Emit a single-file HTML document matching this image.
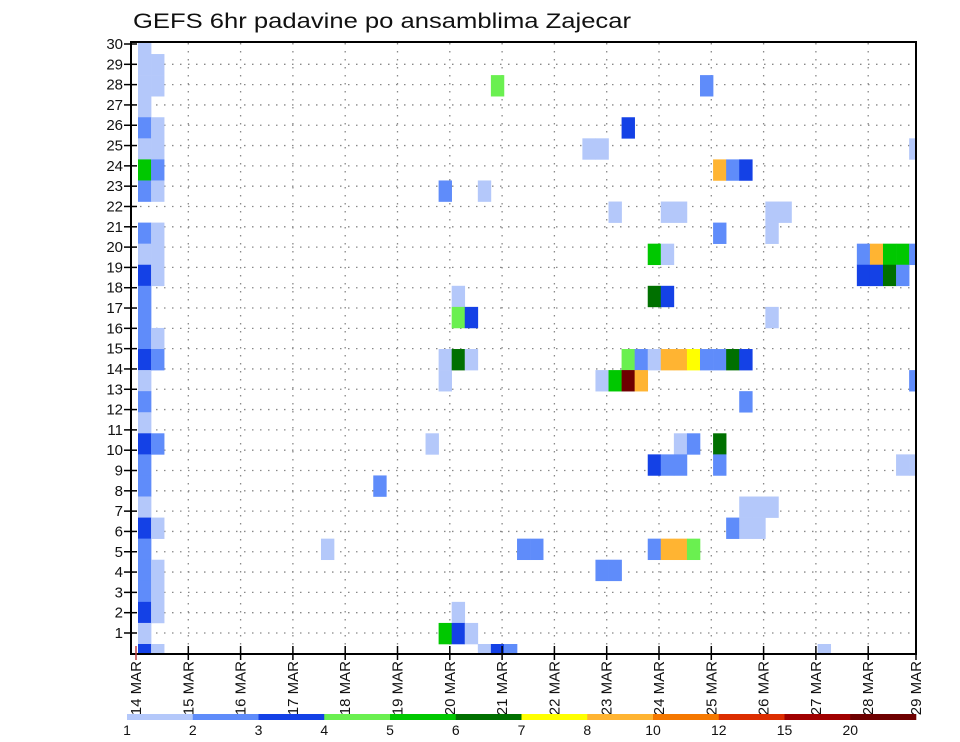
<!DOCTYPE html>
<html><head><meta charset="utf-8"><style>
html,body{margin:0;padding:0;background:#fff;}
svg{display:block;font-family:"Liberation Sans",sans-serif;}
</style></head><body>
<svg id="chart" width="960" height="742" viewBox="0 0 960 742" xmlns="http://www.w3.org/2000/svg">
<rect x="0" y="0" width="960" height="742" fill="#fff"/>
<text x="133" y="28" font-size="21" textLength="498" lengthAdjust="spacingAndGlyphs" fill="#111">GEFS 6hr padavine po ansamblima Zajecar</text>
<defs><clipPath id="plotclip"><rect x="132" y="42" width="783" height="612"/></clipPath></defs>
<g id="grid"></g>
<g id="cells" clip-path="url(#plotclip)"></g>
<rect x="131" y="42" width="785" height="612" fill="none" stroke="#000" stroke-width="2"/>
<g id="yaxis"></g>
<g id="xaxis"></g>
<g id="colorbar"></g>
</svg>
<script>
// time step index (6h steps from 14 MAR)
const cellTime = [0,0,0,0,0,0,0,0,0,0,0,0,0,0,0,0,0,0,0,0,0,0,0,0,0,0,0,0,0,
 1,1,1,1,1,1,1,1,1,1,1,1,1,1,1,1,1,
 14,18,22,23,23,23,23,24,24,24,24,24,25,25,25,26,26,27,27,28,29,30,34,35,35,35,36,36,36,37,37,37,38,38,39,39,39,39,39,40,40,40,40,40,40,41,41,41,41,41,42,42,42,43,43,44,44,44,44,44,45,45,45,46,46,46,46,46,47,47,48,48,48,48,49,52,55,55,56,56,57,57,58,58,58,59,59,59,59];
// ensemble member row index
const cellMember = [29,28,27,26,25,24,23,22,20,19,18,17,16,15,14,13,12,11,10,9,8,7,6,5,4,3,2,1,0,
 28,27,25,24,23,22,20,19,18,15,14,10,6,4,3,2,0,
 5,8,10,22,14,13,1,17,16,14,2,1,16,14,1,22,0,27,0,0,5,5,24,24,13,4,4,21,13,25,14,13,14,13,14,19,17,9,5,21,19,17,14,9,5,21,14,10,9,5,14,10,5,27,14,14,23,20,10,9,23,14,6,23,14,12,7,6,7,6,7,21,20,16,21,0,19,18,19,18,19,18,19,18,9,19,24,13,9];
// precipitation value (mm)
const cellValue = [1.5,1.5,1.5,1.5,2.5,1.5,5.5,2.5,2.5,1.5,3.5,2.5,2.5,2.5,3.5,1.5,2.5,1.5,3.5,2.5,2.5,1.5,3.5,2.5,2.5,2.5,3.5,1.5,3.5,
 1.5,1.5,1.5,1.5,2.5,1.5,1.5,1.5,1.5,1.5,2.5,2.5,1.5,1.5,1.5,1.5,1.5,
 1.5,2.5,1.5,2.5,1.5,1.5,5.5,1.5,4.5,6.5,1.5,3.5,3.5,1.5,1.5,1.5,1.5,4.5,3.5,2.5,2.5,2.5,1.5,1.5,1.5,2.5,2.5,1.5,5.5,3.5,4.5,25,2.5,9,1.5,5.5,6.5,3.5,2.5,1.5,1.5,3.5,9,2.5,9,1.5,9,1.5,2.5,9,7.5,2.5,4.5,2.5,2.5,2.5,9,2.5,6.5,2.5,2.5,6.5,2.5,3.5,3.5,2.5,1.5,1.5,1.5,1.5,1.5,1.5,1.5,1.5,1.5,1.5,2.5,3.5,9,3.5,5.5,6.5,5.5,2.5,1.5,2.5,1.5,2.5,1.5];
const levels = [1,2,3,4,5,6,7,8,10,12,15,20];
const levelColors = ["#b4c8fa","#5f8cfa","#1441e6","#6af050","#00c800","#007000","#ffff00","#ffb432","#f57800","#dc2d00","#a00000","#6e0000"];
const dayLabels = ["14 MAR","15 MAR","16 MAR","17 MAR","18 MAR","19 MAR","20 MAR","21 MAR","22 MAR","23 MAR","24 MAR","25 MAR","26 MAR","27 MAR","28 MAR","29 MAR"];
const memberTicks = [1,2,3,4,5,6,7,8,9,10,11,12,13,14,15,16,17,18,19,20,21,22,23,24,25,26,27,28,29,30];

const NS="http://www.w3.org/2000/svg";
function mk(tag, attrs, parent){const e=document.createElementNS(NS,tag);for(const k in attrs)e.setAttribute(k,attrs[k]);parent.appendChild(e);return e;}
const cellW=13.07, cellH=21.07;
function xCell(t){return 138+cellW*t;}
function yCell(m){return 644-cellH*m;}
function xDay(d){return Math.min(136+52.3*d,916);}
function yTick(v){return 653.3-20.31*v;}
function colorFor(v){let i=0;for(let k=0;k<levels.length;k++){if(v>=levels[k])i=k;}return levelColors[i];}

const grid=document.getElementById('grid');
memberTicks.forEach(v=>{ if(v>=30)return;
  const l=mk('line',{x1:132,x2:915,y1:yTick(v),y2:yTick(v),stroke:"#888","stroke-width":1.3,"stroke-dasharray":"1.5,6.5"},grid);
  
  
});
dayLabels.forEach((s,d)=>{ if(d===0||d===dayLabels.length-1)return;
  const l=mk('line',{x1:xDay(d),x2:xDay(d),y1:43,y2:653,stroke:"#888","stroke-width":1.3,"stroke-dasharray":"1.5,6.5"},grid);
  
  
});

const cells=document.getElementById('cells');
for(let i=0;i<cellTime.length;i++){
  const r=mk('rect',{x:xCell(cellTime[i]),y:yCell(cellMember[i]),width:cellW+0.3,height:cellH+0.3,fill:colorFor(cellValue[i])},cells);
  
  
}

const ya=document.getElementById('yaxis');
memberTicks.forEach(v=>{
  const y=yTick(v);
  const t=mk('line',{x1:124,x2:137,y1:y,y2:y,stroke:"#000","stroke-width":1.5},ya);
  
  
  const tx=mk('text',{x:123,y:y+5,"font-size":15,"text-anchor":"end",fill:"#111"},ya);
  tx.textContent=String(v);
  
  
});

const xa=document.getElementById('xaxis');
dayLabels.forEach((s,d)=>{
  const x=xDay(d);
  const t=mk('line',{x1:x,x2:x,y1:646,y2:660,stroke:d===0?"#c04040":"#000","stroke-width":1.5},xa);
  
  
  const tx=mk('text',{x:0,y:0,"font-size":15,"text-anchor":"end",fill:"#111",transform:`translate(${x+5},661) rotate(-90)`},xa);
  tx.textContent=s;
  
  
});

const cb=document.getElementById('colorbar');
const segW=(916-127)/levels.length;
levelColors.forEach((c,i)=>{
  const r=mk('rect',{x:127+segW*i,y:714,width:segW+0.3,height:6,fill:c},cb);
  
  
});
levels.forEach((v,i)=>{
  const tx=mk('text',{x:127+segW*i,y:735,"font-size":14,"text-anchor":"middle",fill:"#111"},cb);
  tx.textContent=String(v);
  
  
});
</script>
</body></html>
